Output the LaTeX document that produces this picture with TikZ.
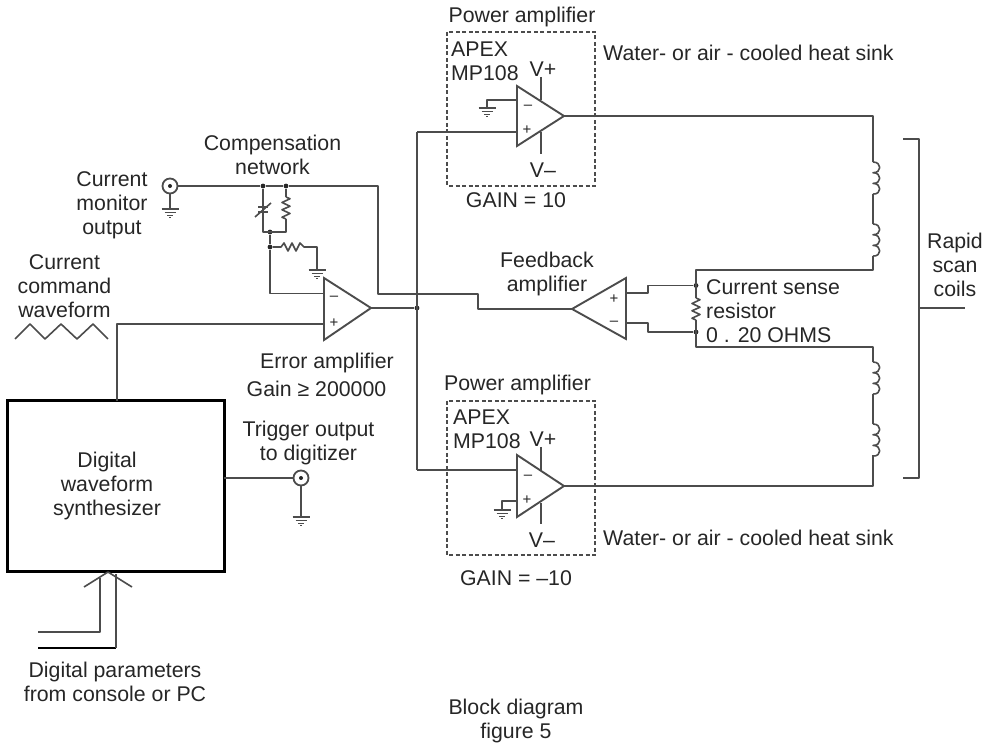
\documentclass[tikz,border=0pt]{standalone}
\usepackage{fontspec}
\setmainfont{Liberation Sans}
\usetikzlibrary{calc}
\definecolor{wire}{gray}{0.3}
\definecolor{txt}{gray}{0.15}
\tikzset{
  wireline/.style={draw=wire,line width=1.6pt,line join=round},
  amp/.style={draw=wire,line width=1.9pt,line join=miter},
  dashbox/.style={draw=wire,line width=1.7pt,dash pattern=on 4pt off 2.5pt},
  label/.style={text=txt,font=\fontsize{21.3}{24}\selectfont,inner sep=0pt,align=center},
  leftlabel/.style={label,anchor=west,align=left},
  sign/.style={text=txt,font=\fontsize{15}{15}\selectfont,inner sep=0pt},
  jdot/.style={circle,fill=black!85,inner sep=0pt,minimum size=4.8pt},
  term/.style={circle,draw=wire,line width=1.8pt,fill=white,minimum size=15pt,inner sep=0pt}
}
% ground symbol at coordinate
\newcommand{\gnd}[1]{%
  \draw[wireline] ($(#1)+(-8.5,0)$) -- ($(#1)+(8.5,0)$);
  \draw[wireline,line width=1.3pt] ($(#1)+(-5.5,3.2)$) -- ($(#1)+(5.5,3.2)$);
  \draw[wireline,line width=1.3pt] ($(#1)+(-3,6.2)$) -- ($(#1)+(3,6.2)$);
  \draw[wireline,line width=1.1pt] ($(#1)+(-1,8.8)$) -- ($(#1)+(1,8.8)$);
}
% vertical zigzag resistor between two coordinates (x, y1, y2)
\newcommand{\vres}[3]{%
  \draw[wireline] (#1,#2)
   \foreach \k/\dx in {0.08/4,0.25/-4,0.42/4,0.58/-4,0.75/4,0.92/-4}{ -- ({#1+\dx},{#2+\k*(#3-#2)}) } -- (#1,#3);
}
% vertical inductor
\newcommand{\coil}[2]{%
  \draw[wireline] (#1,#2)
   \foreach \k in {0,1,2}{
     .. controls ({#1+9},{#2+\k*10.7}) and ({#1+9},{#2+\k*10.7+11}) .. (#1,{#2+\k*10.7+10.7})
   };
}
\begin{document}
\begin{tikzpicture}[x=1pt,y=-1pt]
\useasboundingbox (0,0) rectangle (989,743);

% Coordinates
\coordinate (eaTop) at (324,278);
\coordinate (eaBot) at (324,340);
\coordinate (eaTip) at (371,308);
\coordinate (eaM) at (324,293.5);
\coordinate (eaP) at (324,324);
\coordinate (faTip) at (572,309);
\coordinate (faTop) at (626,278);
\coordinate (faBot) at (626,339);
\coordinate (p1Tip) at (564,116);
\coordinate (p2Tip) at (564,486);

% Synth box
\node[draw=black,line width=3pt,minimum width=217pt,minimum height=170pt,inner sep=0pt,outer sep=0pt,anchor=north west,fill=white] (synth) at (7,401) {};
\node[label] (synthT) at (107,486) {Digital\\waveform\\synthesizer};

% Terminals
\node[term] (mon) at (170,186) {};
\node[jdot,minimum size=4pt] (monc) at (170,186) {};
\node[term] (trig) at (301,478) {};
\node[jdot,minimum size=4pt] (trigc) at (301,478) {};

% Junctions
\node[jdot] (j1) at (263,186) {};
\node[jdot] (j2) at (286,186) {};
\node[jdot] (j3) at (270,232) {};
\node[jdot] (j4) at (270,247) {};
\node[jdot] (jv) at (417,308) {};
\node[jdot] (js1) at (696,285.5) {};
\node[jdot] (js2) at (696,332) {};

% Error amp + wires
\draw[wireline] (mon) -- (j1) -- (j2) -- (378,186) -- (378,294) -- (478,294) -- (478,309) -- (faTip);
\draw[amp,fill=white] (eaTop) -- (eaBot) -- (eaTip) -- cycle;
\node[sign] (eam) at (334,298) {–};
\node[sign] (eap) at (334,323) {+};
\draw[wireline] (eaTip) -- (jv);
\draw[wireline] (417,132) -- (417,470);
\draw[wireline] (117,401) -- (117,324) -- (eaP);
\draw[wireline] (mon) -- (170,209);
\gnd{170,209}
\draw[wireline] (trig) -- (301,517);
\gnd{301,517}
\draw[wireline] (synth.east |- trig) -- (trig);

% Compensation
\draw[wireline] (j1) -- (263,232) -- (286,232) -- (286,219);
\vres{286}{197}{219}
\draw[wireline] (j2) -- (286,197);
\draw[wireline] (255,217) -- (271,203);
\draw[wireline] (258,207) -- (268,207);
\draw[wireline] (258,212) -- (268,212);
\draw[wireline] (j3) -- (j4) -- (270,293.5) -- (eaM);
\draw[wireline] (j4) -- (281,247) -- (284,243) -- (288,251) -- (292,243) -- (296,251) -- (300,243) -- (304,247) -- (317,247) -- (317,270);
\gnd{317,270}

% Feedback amp
\draw[amp,fill=white] (faTip) -- (faTop) -- (faBot) -- cycle;
\node[sign] (fap) at (614,299) {+};
\node[sign] (fam) at (614,323) {–};
\draw[wireline] (626,293) -- (648,293) -- (648,285.5) -- (js1);
\draw[wireline] (626,323) -- (648,323) -- (648,332) -- (js2);

% Power amp 1
\draw[dashbox] (447,32) rectangle (595,186);
\draw[wireline] (p1Tip) -- (873,116) -- (873,162);
\draw[wireline] (541,77) -- (541,100);
\draw[wireline] (541,132) -- (541,154);
\draw[amp,fill=white] (517,86) -- (517,146) -- (p1Tip) -- cycle;
\draw[wireline] (417,132) -- (517,132);
\draw[wireline] (517,100) -- (487,100) -- (487,108);
\gnd{487,108}
\node[sign] (p1m) at (528,107) {–};
\node[sign] (p1p) at (527,130) {+};

% Power amp 2
\draw[dashbox] (447,401) rectangle (595,555);
\draw[wireline] (p2Tip) -- (873,486) -- (873,455);
\draw[wireline] (541,447) -- (541,470);
\draw[wireline] (541,503) -- (541,524);
\draw[amp,fill=white] (517,455) -- (517,517) -- (p2Tip) -- cycle;
\draw[wireline] (417,470) -- (517,470);
\draw[wireline] (517,501) -- (502,501) -- (502,510);
\gnd{502,510}
\node[sign] (p2m) at (528,477) {–};
\node[sign] (p2p) at (527,500) {+};

% Coils and sense loop
\coil{873}{162}
\draw[wireline] (873,194) -- (873,224);
\coil{873}{224}
\draw[wireline] (873,256) -- (873,270) -- (696,270) -- (696,298);
\vres{696}{298}{320}
\draw[wireline] (696,320) -- (696,347) -- (873,347) -- (873,362);
\coil{873}{362}
\draw[wireline] (873,394) -- (873,424);
\coil{873}{424}

% Bracket
\draw[wireline,line width=1.9pt] (903,139) -- (919,139) -- (919,478) -- (903,478);
\draw[wireline] (919,308) -- (965,308);

% Waveform
\draw[wireline] (15,339) -- (30,324) -- (45,339) -- (61,324) -- (77,339) -- (93,324) -- (108,339);

% Digital inputs
\draw[wireline] (38,632) -- (100,632) -- (100,578);
\draw[draw=black,line width=2.6pt] (38,648) -- (116,648);
\draw[wireline] (116,648) -- (116,574);
\draw[wireline] (84,587) -- (108,572) -- (132,587);

% Text
\node[label] (tPA1) at (522,17) {Power amplifier};
\node[leftlabel] (tA1) at (451,49) {APEX};
\node[leftlabel] (tM1) at (451,73) {MP108};
\node[label] (tVp1) at (543,69) {V+};
\node[label] (tVm1) at (543,170) {V–};
\node[label] (tG1) at (516,200) {GAIN = 10};
\node[leftlabel] (tW1) at (603,53) {Water- or air - cooled heat sink};
\node[label] (tPA2) at (517.5,385) {Power amplifier};
\node[leftlabel] (tA2) at (453,417) {APEX};
\node[leftlabel] (tM2) at (453,441) {MP108};
\node[label] (tVp2) at (543,439) {V+};
\node[label] (tVm2) at (542,540) {V–};
\node[label] (tG2) at (516,578) {GAIN = –10};
\node[leftlabel] (tW2) at (603,538) {Water- or air - cooled heat sink};
\node[label] (tCN) at (272.5,155) {Compensation\\network};
\node[label] (tCM) at (112,205) {Current\\monitor\\output};
\node[label] (tCC) at (64.5,286) {Current\\command\\waveform};
\node[label] (tEA) at (327,363) {Error amplifier};
\node[label] (tEG) at (316.5,389) {Gain ≥ 200000};
\node[label] (tTO) at (308.5,443) {Trigger output\\to digitizer};
\node[label] (tDP) at (115,681.5) {Digital parameters\\from console or PC};
\node[label] (tBD) at (516,721) {Block diagram\\figure 5};
\node[label] (tFA) at (547,274) {Feedback\\amplifier};
\node[leftlabel] (tCS) at (706,311) {Current sense\\resistor\\0 . 20 OHMS};
\node[label] (tRS) at (955,265) {Rapid\\scan\\coils};
\end{tikzpicture}
\end{document}
